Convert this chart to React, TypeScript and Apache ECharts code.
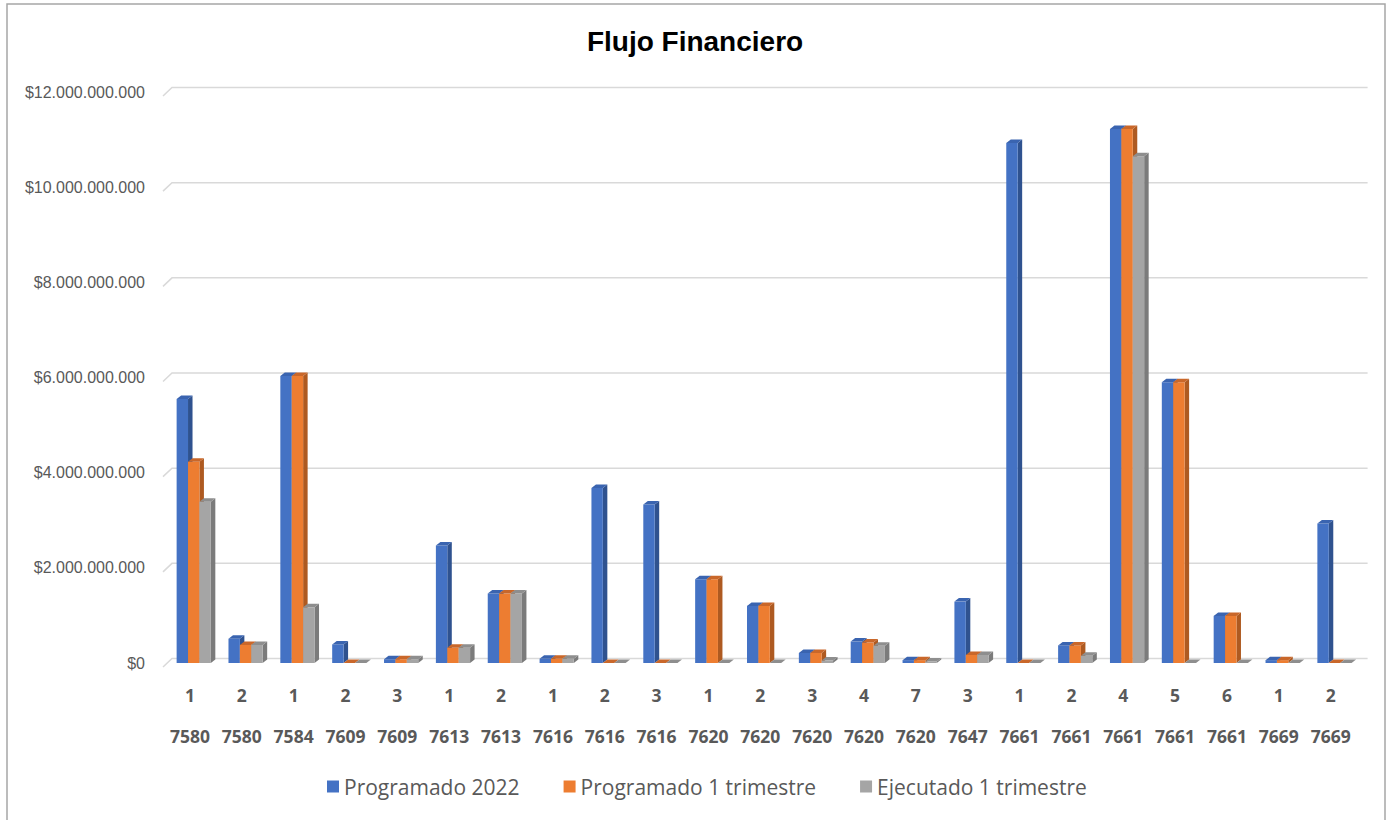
import React, { useEffect, useRef } from "react";
import * as echarts from "echarts";

const subLabels = ["1","2","1","2","3","1","2","1","2","3","1","2","3","4","7","3","1","2","4","5","6","1","2"];
const codeLabels = ["7580","7580","7584","7609","7609","7613","7613","7616","7616","7616","7620","7620","7620","7620","7620","7647","7661","7661","7661","7661","7661","7669","7669"];

const programado2022 = [5550000000,510000000,6030000000,390000000,80000000,2470000000,1460000000,90000000,3680000000,3330000000,1760000000,1200000000,210000000,450000000,60000000,1290000000,10930000000,370000000,11220000000,5900000000,990000000,60000000,2930000000];
const programado1T = [4230000000,380000000,6030000000,0,80000000,320000000,1460000000,90000000,0,0,1760000000,1200000000,210000000,430000000,60000000,170000000,0,370000000,11220000000,5900000000,990000000,60000000,0];
const ejecutado1T = [3390000000,380000000,1170000000,0,80000000,320000000,1460000000,90000000,0,0,0,0,50000000,360000000,30000000,170000000,0,150000000,10650000000,0,0,0,0];

const yTicks = [0,2000000000,4000000000,6000000000,8000000000,10000000000,12000000000];

const seriesNames = ["Programado 2022", "Programado 1 trimestre", "Ejecutado 1 trimestre"];
const frontColors = ["#4472C4", "#ED7D31", "#A5A5A5"];
const sideColors = ["#2F528F", "#AE5A21", "#7B7B7B"];
const topColors = ["#3A64B0", "#C9672A", "#8E8E8E"];

function fmtMoney(v: number) {
  return "$" + String(Math.round(v)).replace(/\B(?=(\d{3})+(?!\d))/g, ".");
}

export default function App() {
  const ref = useRef<HTMLDivElement>(null);
  useEffect(() => {
    if (!ref.current) return;
    const chart = echarts.init(ref.current, undefined, { renderer: "svg" });
    const BW = 11.4;
    const DX = 4.5;
    const DY = 3.5;
    const makeBarSeries = (s: number, values: number[]) => ({
      type: "custom",
      name: seriesNames[s],
      itemStyle: { color: frontColors[s] },
      data: values.map((v, i) => [i, v]),
      encode: { x: 0, y: 1 },
      z: 3,
      silent: true,
      renderItem: (params: any, api: any) => {
        const idx = api.value(0);
        const v = api.value(1);
        const top = api.coord([idx, v]);
        const base = api.coord([idx, 0]);
        const cx = top[0];
        const yT = top[1];
        const yB = base[1];
        const x0 = cx - 13.3 + s * BW;
        const x1 = x0 + BW;
        return {
          type: "group",
          children: [
            {
              type: "polygon",
              shape: { points: [[x1, yT], [x1 + DX, yT - DY], [x1 + DX, yB - DY], [x1, yB]] },
              style: { fill: sideColors[s] },
            },
            {
              type: "rect",
              shape: { x: x0, y: yT, width: BW, height: Math.max(0, yB - yT) },
              style: { fill: frontColors[s] },
            },
            {
              type: "polygon",
              shape: { points: [[x0, yT], [x0 + DX, yT - DY], [x1 + DX, yT - DY], [x1, yT]] },
              style: { fill: topColors[s] },
            },
          ],
        };
      },
    });

    const option: any = {
      animation: false,
      backgroundColor: "#ffffff",
      title: {
        text: "Flujo Financiero",
        left: "center",
        top: 22,
        textStyle: { fontFamily: "Liberation Sans", fontWeight: "bold", fontSize: 28, color: "#000000" },
      },
      graphic: [
        {
          type: "rect",
          shape: { x: 7, y: 4, width: 1378, height: 830 },
          style: { fill: "none", stroke: "#a6a6a6", lineWidth: 1.5 },
          silent: true,
        },
      ],
      legend: {
        data: seriesNames,
        left: 322,
        top: 771,
        icon: "rect",
        itemWidth: 12,
        itemHeight: 12,
        itemGap: 44,
        textStyle: { fontFamily: "Open Sans", fontSize: 21, color: "#595959" },
      },
      grid: { left: 164, right: 33.4, top: 92, bottom: 157, containLabel: false },
      xAxis: {
        type: "category",
        data: codeLabels.map((c, i) => c + "|" + subLabels[i]),
        axisLine: { show: false },
        axisTick: { show: false },
        splitLine: { show: false },
        axisLabel: {
          interval: 0,
          margin: 11,
          formatter: (val: string) => {
            const [c, s] = val.split("|");
            return "{a|" + s + "}\n{b|" + c + "}";
          },
          rich: {
            a: { fontFamily: "Open Sans", fontWeight: "bold", fontSize: 17.5, color: "#595959", lineHeight: 41, height: 41 },
            b: { fontFamily: "Open Sans", fontWeight: "bold", fontSize: 17.5, color: "#595959", lineHeight: 41, height: 41 },
          },
        },
      },
      yAxis: {
        type: "value",
        min: 0,
        max: 12000000000,
        interval: 2000000000,
        axisLine: { show: false },
        axisTick: { show: false },
        splitLine: { show: false },
        axisLabel: {
          margin: 19,
          fontFamily: "Liberation Sans",
          fontSize: 16,
          color: "#595959",
          formatter: (v: number) => fmtMoney(v),
        },
      },
      series: [
        {
          type: "custom",
          name: "grid",
          data: yTicks.map((v) => [0, v]),
          encode: { x: 0, y: 1 },
          z: 1,
          silent: true,
          renderItem: (params: any, api: any) => {
            const y = api.coord([0, api.value(1)])[1];
            const cs = params.coordSys;
            return {
              type: "polyline",
              shape: { points: [[cs.x - 1, y + 4], [cs.x + 8, y - 4.5], [cs.x + cs.width + 11, y - 4.5]] },
              style: { stroke: "#d9d9d9", lineWidth: 1.5, fill: null },
            };
          },
        },
        makeBarSeries(0, programado2022),
        makeBarSeries(1, programado1T),
        makeBarSeries(2, ejecutado1T),
      ],
    };
    chart.setOption(option);
    return () => chart.dispose();
  }, []);
  return (
    <div
      ref={ref}
      style={{ position: "fixed", left: 0, top: 0, width: 1390, height: 820, background: "#fff" }}
    />
  );
}
